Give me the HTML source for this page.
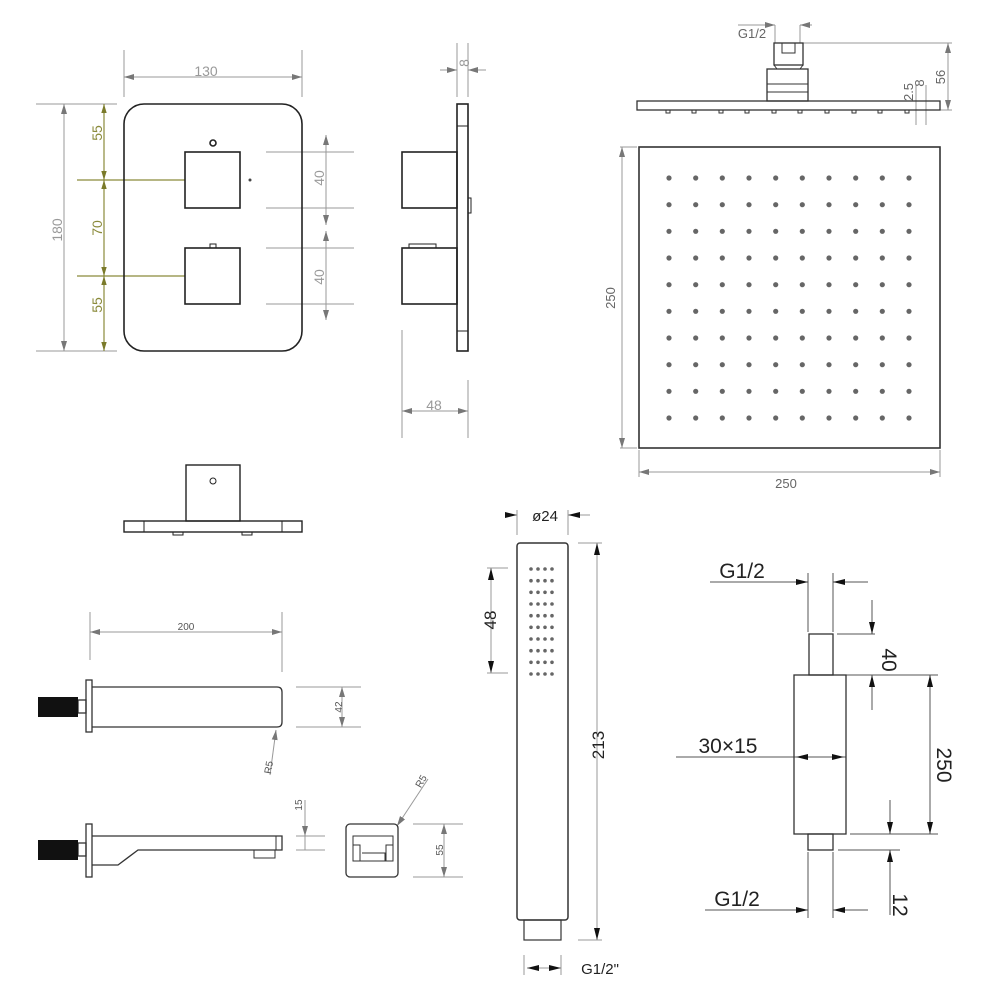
<!DOCTYPE html>
<html><head><style>html,body{margin:0;padding:0;background:#fff}svg{display:block}</style></head>
<body>
<svg width="1005" height="1005" viewBox="0 0 1005 1005" xmlns="http://www.w3.org/2000/svg" font-family="Liberation Sans, sans-serif">
<defs>
<marker id="a" viewBox="0 0 10 6" refX="10" refY="3" markerWidth="10" markerHeight="6" orient="auto-start-reverse" markerUnits="userSpaceOnUse"><path d="M0,0 L10,3 L0,6 z" fill="#777"/></marker>
<marker id="b" viewBox="0 0 12 6" refX="12" refY="3" markerWidth="12" markerHeight="6" orient="auto-start-reverse" markerUnits="userSpaceOnUse"><path d="M0,0 L12,3 L0,6 z" fill="#111"/></marker>
<marker id="o" viewBox="0 0 10 6" refX="10" refY="3" markerWidth="9" markerHeight="6" orient="auto-start-reverse" markerUnits="userSpaceOnUse"><path d="M0,0 L10,3 L0,6 z" fill="#7a7a2a"/></marker>
</defs>
<!-- valve front -->
<g fill="none" stroke="#999" stroke-width="1">
<line x1="124" y1="50" x2="124" y2="97"/><line x1="302" y1="50" x2="302" y2="97"/>
<line x1="124" y1="77" x2="302" y2="77" marker-start="url(#a)" marker-end="url(#a)"/>
<line x1="36" y1="104" x2="117" y2="104"/><line x1="36" y1="351" x2="117" y2="351"/>
<line x1="64" y1="104" x2="64" y2="351" marker-start="url(#a)" marker-end="url(#a)"/>
<line x1="266" y1="152" x2="354" y2="152"/><line x1="266" y1="208" x2="354" y2="208"/>
<line x1="266" y1="248" x2="354" y2="248"/><line x1="266" y1="304" x2="354" y2="304"/>
<line x1="326" y1="135" x2="326" y2="225" marker-start="url(#a)" marker-end="url(#a)"/>
<line x1="326" y1="231" x2="326" y2="320" marker-start="url(#a)" marker-end="url(#a)"/>
</g>
<g stroke="#8a8a3a" stroke-width="1.2" fill="none">
<line x1="104" y1="104" x2="104" y2="180" marker-start="url(#o)" marker-end="url(#o)"/>
<line x1="104" y1="180" x2="104" y2="276" marker-start="url(#o)" marker-end="url(#o)"/>
<line x1="104" y1="276" x2="104" y2="351" marker-start="url(#o)" marker-end="url(#o)"/>
<line x1="77" y1="180" x2="185" y2="180"/><line x1="77" y1="276" x2="185" y2="276"/>
</g>
<g fill="#999" font-size="14">
<text x="206" y="76" text-anchor="middle">130</text>
<text transform="translate(62,230) rotate(-90)" text-anchor="middle">180</text>
<text transform="translate(324,178) rotate(-90)" text-anchor="middle">40</text>
<text transform="translate(324,277) rotate(-90)" text-anchor="middle">40</text>
<text x="434" y="410" text-anchor="middle">48</text>
<text transform="translate(469,63) rotate(-90)" text-anchor="middle">8</text>
</g>
<g fill="#8a8a3a" font-size="14">
<text transform="translate(102,133) rotate(-90)" text-anchor="middle">55</text>
<text transform="translate(102,228) rotate(-90)" text-anchor="middle">70</text>
<text transform="translate(102,305) rotate(-90)" text-anchor="middle">55</text>
</g>
<g fill="none" stroke="#222" stroke-width="1.6">
<rect x="124" y="104" width="178" height="247" rx="20"/>
<rect x="185" y="152" width="55" height="56"/>
<rect x="185" y="248" width="55" height="56"/>
<rect x="210" y="244" width="6" height="4" stroke-width="1"/>
<circle cx="213" cy="143" r="3"/>
</g>
<circle cx="250" cy="180" r="1.5" fill="#444"/>
<!-- side view -->
<g fill="none" stroke="#999" stroke-width="1">
<line x1="457" y1="43" x2="457" y2="97"/><line x1="468" y1="43" x2="468" y2="97"/>
<line x1="440" y1="70" x2="457" y2="70" marker-end="url(#a)"/><line x1="486" y1="70" x2="468" y2="70" marker-end="url(#a)"/>
<line x1="402" y1="330" x2="402" y2="438"/><line x1="468" y1="380" x2="468" y2="438"/>
<line x1="402" y1="411" x2="468" y2="411" marker-start="url(#a)" marker-end="url(#a)"/>
</g>
<g fill="none" stroke="#222" stroke-width="1.6">
<rect x="457" y="104" width="11" height="247"/>
<line x1="457" y1="126" x2="468" y2="126" stroke-width="1"/><line x1="457" y1="331" x2="468" y2="331" stroke-width="1"/>
<rect x="402" y="152" width="55" height="56"/>
<rect x="402" y="248" width="55" height="56"/>
<rect x="409" y="244" width="27" height="4" stroke-width="1"/>
<rect x="468" y="198" width="3" height="15" stroke-width="1"/>
</g>
<!-- bottom view -->
<g fill="none" stroke="#222" stroke-width="1.4">
<rect x="124" y="521" width="178" height="11"/>
<line x1="144" y1="521" x2="144" y2="532" stroke-width="1"/><line x1="282" y1="521" x2="282" y2="532" stroke-width="1"/>
<rect x="186" y="465" width="54" height="56"/>
<circle cx="213" cy="481" r="3" stroke-width="1"/>
<rect x="173" y="532" width="10" height="3" stroke-width="1"/><rect x="242" y="532" width="10" height="3" stroke-width="1"/>
</g>
<!-- shower head side -->
<g fill="none" stroke="#999" stroke-width="1">
<line x1="775" y1="25" x2="775" y2="43"/><line x1="800" y1="25" x2="800" y2="43"/>
<line x1="738" y1="25" x2="775" y2="25" marker-end="url(#a)"/><line x1="812" y1="25" x2="800" y2="25" marker-end="url(#a)"/>
<line x1="803" y1="43" x2="952" y2="43"/><line x1="940" y1="110" x2="952" y2="110"/>
<line x1="948" y1="43" x2="948" y2="110" marker-start="url(#a)" marker-end="url(#a)"/>
<line x1="916" y1="85" x2="916" y2="125"/><line x1="926" y1="85" x2="926" y2="125"/>
</g>
<g fill="#666" font-size="13">
<text x="752" y="38" text-anchor="middle">G1/2</text>
<text transform="translate(945,77) rotate(-90)" text-anchor="middle">56</text>
<text transform="translate(913,92) rotate(-90)" text-anchor="middle">2.5</text>
<text transform="translate(924,83) rotate(-90)" text-anchor="middle">8</text>
</g>
<g fill="none" stroke="#333" stroke-width="1.3">
<rect x="637" y="101" width="303" height="9"/>
<rect x="774" y="43" width="29" height="22"/>
<rect x="782" y="43" width="13" height="10" stroke-width="1"/>
<path d="M774 65 L777 69 H800 L803 65" stroke-width="1"/>
<rect x="767" y="69" width="41" height="32"/>
<line x1="767" y1="84" x2="808" y2="84" stroke-width="1"/><line x1="767" y1="92" x2="808" y2="92" stroke-width="1"/>
<g stroke-width="1"><rect x="666" y="110" width="4" height="3"/><rect x="692" y="110" width="4" height="3"/><rect x="719" y="110" width="4" height="3"/><rect x="745" y="110" width="4" height="3"/><rect x="772" y="110" width="4" height="3"/><rect x="798" y="110" width="4" height="3"/><rect x="825" y="110" width="4" height="3"/><rect x="852" y="110" width="4" height="3"/><rect x="878" y="110" width="4" height="3"/><rect x="905" y="110" width="4" height="3"/></g>
</g>
<!-- shower head top -->
<g fill="none" stroke="#999" stroke-width="1">
<line x1="620" y1="147" x2="637" y2="147"/><line x1="620" y1="448" x2="637" y2="448"/>
<line x1="622" y1="147" x2="622" y2="448" marker-start="url(#a)" marker-end="url(#a)"/>
<line x1="639" y1="450" x2="639" y2="477"/><line x1="940" y1="450" x2="940" y2="477"/>
<line x1="639" y1="472" x2="940" y2="472" marker-start="url(#a)" marker-end="url(#a)"/>
</g>
<g fill="#666" font-size="13">
<text transform="translate(615,298) rotate(-90)" text-anchor="middle">250</text>
<text x="786" y="488" text-anchor="middle">250</text>
</g>
<rect x="639" y="147" width="301" height="301" fill="none" stroke="#333" stroke-width="1.6"/>
<g fill="#666" id="dots">
<g id="row">
<circle cx="669" cy="178" r="2.6"/><circle cx="695.7" cy="178" r="2.6"/><circle cx="722.3" cy="178" r="2.6"/><circle cx="749" cy="178" r="2.6"/><circle cx="775.7" cy="178" r="2.6"/><circle cx="802.3" cy="178" r="2.6"/><circle cx="829" cy="178" r="2.6"/><circle cx="855.7" cy="178" r="2.6"/><circle cx="882.3" cy="178" r="2.6"/><circle cx="909" cy="178" r="2.6"/>
</g>
<use href="#row" y="26.7"/><use href="#row" y="53.3"/><use href="#row" y="80"/><use href="#row" y="106.7"/><use href="#row" y="133.3"/><use href="#row" y="160"/><use href="#row" y="186.7"/><use href="#row" y="213.3"/><use href="#row" y="240"/>
</g>
<!-- hand shower -->
<g fill="none" stroke="#999" stroke-width="1">
<line x1="517" y1="510" x2="517" y2="535"/><line x1="568" y1="510" x2="568" y2="535"/>
<line x1="505" y1="515" x2="517" y2="515" marker-end="url(#b)"/><line x1="590" y1="515" x2="568" y2="515" marker-end="url(#b)"/>
<line x1="578" y1="543" x2="602" y2="543"/><line x1="578" y1="940" x2="602" y2="940"/>
<line x1="597" y1="543" x2="597" y2="940" marker-start="url(#b)" marker-end="url(#b)"/>
<line x1="487" y1="568" x2="508" y2="568"/><line x1="487" y1="673" x2="508" y2="673"/>
<line x1="491" y1="568" x2="491" y2="673" marker-start="url(#b)" marker-end="url(#b)"/>
<line x1="524" y1="955" x2="524" y2="975"/><line x1="561" y1="955" x2="561" y2="975"/>
<line x1="527" y1="968" x2="545" y2="968" marker-start="url(#b)"/><line x1="545" y1="968" x2="561" y2="968" marker-end="url(#b)"/>
</g>
<g fill="#222" font-size="15">
<text x="545" y="521" text-anchor="middle">ø24</text>
<text transform="translate(496,620) rotate(-90)" text-anchor="middle" font-size="17">48</text>
<text transform="translate(604,745) rotate(-90)" text-anchor="middle" font-size="17">213</text>
<text x="600" y="974" text-anchor="middle">G1/2"</text>
</g>
<g fill="none" stroke="#333" stroke-width="1.5">
<rect x="517" y="543" width="51" height="377" rx="3"/>
<rect x="524" y="920" width="37" height="20" stroke-width="1.2"/>
</g>
<g fill="#666">
<g id="hr"><circle cx="531" cy="569" r="1.8"/><circle cx="538" cy="569" r="1.8"/><circle cx="545" cy="569" r="1.8"/><circle cx="552" cy="569" r="1.8"/></g>
<use href="#hr" y="11.7"/><use href="#hr" y="23.3"/><use href="#hr" y="35"/><use href="#hr" y="46.7"/><use href="#hr" y="58.3"/><use href="#hr" y="70"/><use href="#hr" y="81.7"/><use href="#hr" y="93.3"/><use href="#hr" y="105"/>
</g>
<!-- arm fitting -->
<g fill="none" stroke="#555" stroke-width="1">
<line x1="808" y1="573" x2="808" y2="632"/><line x1="833" y1="573" x2="833" y2="632"/>
<line x1="710" y1="582" x2="808" y2="582" marker-end="url(#b)"/><line x1="868" y1="582" x2="833" y2="582" marker-end="url(#b)"/>
<line x1="837" y1="634" x2="875" y2="634"/>
<line x1="872" y1="600" x2="872" y2="634" marker-end="url(#b)"/><line x1="872" y1="710" x2="872" y2="675" marker-end="url(#b)"/>
<line x1="846" y1="675" x2="938" y2="675"/><line x1="850" y1="834" x2="938" y2="834"/>
<line x1="930" y1="675" x2="930" y2="834" marker-start="url(#b)" marker-end="url(#b)"/>
<line x1="676" y1="757" x2="846" y2="757"/>
<line x1="820" y1="757" x2="796" y2="757" marker-end="url(#b)"/><line x1="820" y1="757" x2="844" y2="757" marker-end="url(#b)"/>
<line x1="838" y1="850" x2="900" y2="850"/>
<line x1="890" y1="800" x2="890" y2="834" marker-end="url(#b)"/><line x1="890" y1="915" x2="890" y2="850" marker-end="url(#b)"/>
<line x1="808" y1="852" x2="808" y2="918"/><line x1="833" y1="852" x2="833" y2="918"/>
<line x1="705" y1="910" x2="808" y2="910" marker-end="url(#b)"/><line x1="868" y1="910" x2="833" y2="910" marker-end="url(#b)"/>
</g>
<g fill="none" stroke="#333" stroke-width="1.3">
<rect x="809" y="634" width="24" height="41"/>
<rect x="794" y="675" width="52" height="159"/>
<rect x="808" y="834" width="25" height="16"/>
</g>
<g fill="#222" font-size="21">
<text x="742" y="578" text-anchor="middle">G1/2</text>
<text transform="translate(882,660) rotate(90)" text-anchor="middle">40</text>
<text transform="translate(937,765) rotate(90)" text-anchor="middle">250</text>
<text x="728" y="753" text-anchor="middle">30×15</text>
<text transform="translate(893,905) rotate(90)" text-anchor="middle">12</text>
<text x="737" y="906" text-anchor="middle">G1/2</text>
</g>
<!-- spout -->
<g fill="none" stroke="#999" stroke-width="1">
<line x1="90" y1="612" x2="90" y2="660"/><line x1="282" y1="612" x2="282" y2="672"/>
<line x1="90" y1="632" x2="282" y2="632" marker-start="url(#a)" marker-end="url(#a)"/>
<line x1="296" y1="687" x2="361" y2="687"/><line x1="296" y1="727" x2="361" y2="727"/>
<line x1="342" y1="687" x2="342" y2="727" marker-start="url(#a)" marker-end="url(#a)"/>
<line x1="270" y1="775" x2="276" y2="730" marker-end="url(#a)"/>
<line x1="296" y1="836" x2="325" y2="836"/><line x1="296" y1="850" x2="325" y2="850"/>
<line x1="305" y1="800" x2="305" y2="850"/><line x1="305" y1="822" x2="305" y2="836" marker-end="url(#a)"/>
<line x1="413" y1="824" x2="463" y2="824"/><line x1="413" y1="877" x2="463" y2="877"/>
<line x1="444" y1="824" x2="444" y2="877" marker-start="url(#a)" marker-end="url(#a)"/>
<line x1="428" y1="779" x2="397" y2="826" marker-end="url(#a)"/>
</g>
<g fill="#555" font-size="10">
<text x="186" y="630" text-anchor="middle">200</text>
<text transform="translate(342,707) rotate(-90)" text-anchor="middle">42</text>
<text transform="translate(272,768) rotate(-80)" text-anchor="middle">R5</text>
<text transform="translate(302,805) rotate(-90)" text-anchor="middle">15</text>
<text transform="translate(443,850) rotate(-90)" text-anchor="middle">55</text>
<text transform="translate(424,783) rotate(-60)" text-anchor="middle">R5</text>
</g>
<g fill="none" stroke="#333" stroke-width="1.3">
<rect x="86" y="680" width="6" height="52"/>
<rect x="78" y="700" width="8" height="13"/>
<path d="M92 687 H277 Q282 687 282 692 V722 Q282 727 277 727 H92"/>
<rect x="86" y="824" width="6" height="53"/>
<rect x="78" y="843" width="8" height="13"/>
<path d="M92 836 H282 V850 H138 L118 865 H92"/>
<line x1="276" y1="836" x2="276" y2="850" stroke-width="1"/>
<rect x="254" y="850" width="21" height="8" stroke-width="1"/>
<rect x="346" y="824" width="52" height="53" rx="4"/>
<rect x="353" y="836" width="40" height="25" stroke-width="1"/>
<path d="M353 845 H360 V861 M393 845 H386 V861 M362 853 H385 V861" stroke-width="1"/>
</g>
<rect x="38" y="697" width="40" height="20" fill="#111"/>
<rect x="38" y="840" width="40" height="20" fill="#111"/>
</svg>
</body></html>
